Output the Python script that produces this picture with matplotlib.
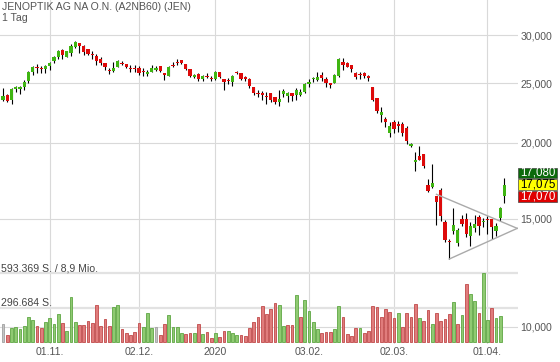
import matplotlib.pyplot as plt
import numpy as np
import pandas as pd
from matplotlib.patches import Rectangle
from matplotlib.transforms import IdentityTransform, blended_transform_factory

plt.rcParams['font.family'] = ['Liberation Sans', 'DejaVu Sans']

title = 'JENOPTIK AG NA O.N. (A2NB60) (JEN)'
interval = '1 Tag'

# Xetra trading days
holidays = ['2019-12-24', '2019-12-25', '2019-12-26', '2019-12-31', '2020-01-01']
dates = pd.bdate_range('2019-10-17', '2020-04-07')
dates = dates[~dates.isin(pd.to_datetime(holidays))]

opens = [23.45, 23.96, 23.50, 24.50, 24.48, 24.66, 25.26, 26.10, 26.59, 26.52,
         26.42, 26.66, 27.17, 27.58, 28.35, 27.65, 28.03, 28.64, 29.11, 28.75,
         28.46, 27.96, 27.72, 27.41, 27.00, 26.29, 26.16, 26.59, 27.03, 26.89,
         26.52, 26.52, 26.52, 26.16, 25.90, 26.12, 26.29, 26.69, 26.00, 25.73,
         26.82, 27.13, 27.30, 26.89, 26.39, 25.61, 25.90, 25.39, 25.71, 25.48,
         25.42, 26.10, 25.39, 25.26, 25.16, 26.07, 25.97, 25.58, 25.42, 24.63,
         24.14, 24.11, 23.84, 24.08, 23.72, 23.28, 23.99, 23.84, 24.14, 23.93,
         23.93, 24.23, 24.94, 25.39, 25.32, 25.80, 25.42, 25.04, 25.07, 25.71,
         27.10, 27.03, 26.79, 26.03, 25.93, 25.97, 25.74, 24.69, 23.69, 22.20,
         21.84, 20.77, 21.62, 21.45, 21.45, 21.13, 19.75, 18.62, 19.02, 19.16,
         17.05, 16.92, 16.33, 16.73, 14.82, 13.81, 14.31, 13.72, 15.00, 15.00,
         14.07, 14.52, 15.13, 14.82, 15.00, 14.98, 14.35, 15.08, 16.36]
highs = [24.57, 24.02, 24.57, 24.78, 24.72, 25.29, 26.16, 26.66, 26.89, 26.66,
         26.76, 27.07, 27.72, 28.35, 28.46, 28.28, 29.00, 29.33, 29.11, 28.92,
         28.46, 28.22, 27.93, 27.58, 27.00, 26.49, 27.10, 27.30, 27.23, 26.89,
         26.79, 26.79, 26.72, 26.52, 26.29, 26.79, 26.72, 26.69, 26.00, 26.66,
         27.07, 27.41, 27.30, 26.89, 26.39, 25.93, 25.97, 25.80, 25.97, 25.67,
         26.19, 26.12, 25.39, 25.54, 25.80, 26.22, 25.97, 25.71, 25.48, 24.63,
         24.39, 24.30, 24.23, 24.14, 23.78, 24.39, 24.45, 24.23, 24.14, 24.54,
         24.45, 25.01, 25.39, 25.64, 26.12, 26.07, 25.58, 25.04, 25.87, 27.54,
         27.47, 27.13, 26.79, 26.12, 26.12, 26.12, 25.80, 24.69, 23.69, 22.85,
         22.06, 21.64, 21.78, 21.70, 21.62, 21.29, 20.00, 19.32, 19.75, 19.16,
         17.44, 18.43, 16.33, 16.84, 14.94, 13.89, 15.66, 14.49, 15.23, 15.33,
         14.81, 15.23, 15.23, 15.04, 15.17, 14.98, 14.76, 15.70, 17.48]
lows = [23.37, 23.28, 23.16, 24.18, 24.05, 24.42, 25.07, 25.83, 26.00, 26.00,
        25.97, 26.32, 27.00, 27.41, 27.44, 27.58, 27.69, 28.56, 28.03, 27.86,
        27.79, 27.44, 26.82, 26.76, 26.26, 25.93, 26.10, 26.56, 26.76, 26.49,
        26.12, 26.07, 25.80, 25.73, 25.73, 26.07, 26.19, 26.12, 25.32, 25.67,
        26.62, 26.79, 26.86, 26.29, 25.58, 25.54, 25.26, 25.23, 25.48, 25.23,
        25.32, 25.54, 24.42, 24.91, 24.76, 25.90, 25.32, 25.26, 24.54, 23.93,
        23.73, 23.48, 23.10, 23.34, 23.13, 22.99, 23.78, 23.34, 23.42, 23.48,
        23.87, 24.09, 24.69, 25.16, 25.26, 25.26, 24.63, 24.54, 25.01, 25.64,
        26.29, 26.56, 26.12, 25.42, 25.42, 25.48, 25.26, 23.42, 22.39, 21.64,
        21.24, 20.45, 20.74, 20.82, 20.51, 19.90, 19.65, 18.00, 18.73, 18.20,
        16.59, 16.88, 14.64, 14.86, 13.77, 12.90, 14.20, 13.55, 14.63, 14.02,
        13.55, 14.26, 14.12, 14.57, 14.16, 13.93, 14.08, 14.89, 15.93]
closes = [23.81, 23.37, 24.48, 24.63, 24.66, 25.16, 26.10, 26.59, 26.49, 26.42,
          26.69, 27.00, 27.58, 28.22, 27.86, 28.22, 28.78, 29.22, 28.75, 28.14,
          27.93, 27.86, 27.23, 27.00, 26.59, 26.22, 26.49, 27.17, 26.93, 26.59,
          26.39, 26.35, 25.97, 26.07, 26.12, 26.52, 26.52, 26.19, 25.80, 26.59,
          26.69, 26.96, 27.00, 26.39, 25.71, 25.83, 25.42, 25.74, 25.61, 25.39,
          26.12, 25.64, 25.10, 25.20, 25.74, 25.97, 25.42, 25.40, 24.79, 24.09,
          24.05, 23.93, 23.78, 23.48, 23.34, 23.57, 24.32, 24.08, 23.84, 24.39,
          24.23, 24.91, 25.16, 25.48, 25.58, 25.48, 25.01, 24.85, 25.80, 27.41,
          26.79, 26.56, 26.39, 25.64, 25.83, 25.71, 25.54, 23.48, 22.53, 22.47,
          21.64, 21.32, 21.05, 21.29, 20.74, 20.12, 19.90, 18.70, 18.75, 18.34,
          16.67, 17.20, 16.01, 15.17, 13.86, 13.76, 14.64, 14.39, 14.72, 14.18,
          14.61, 14.70, 14.62, 14.89, 14.94, 14.57, 14.62, 15.61, 17.08]
# volume in 1000 shares (today's volume not shown yet)
volume_k = [153, 58, 119, 124, 110, 136, 214, 188, 139, 121,
            174, 208, 153, 240, 165, 93, 390, 174, 145, 145,
            179, 165, 321, 136, 194, 139, 301, 321, 110, 72,
            58, 81, 165, 127, 246, 121, 124, 55, 150, 231,
            127, 130, 72, 69, 72, 78, 153, 69, 84, 32,
            75, 38, 95, 93, 72, 61, 61, 49, 121, 171,
            211, 309, 240, 283, 338, 315, 136, 142, 145, 405,
            214, 367, 269, 171, 107, 72, 81, 84, 110, 309,
            217, 64, 52, 116, 119, 75, 90, 309, 301, 211,
            283, 257, 208, 249, 130, 254, 217, 330, 208, 179,
            275, 153, 254, 176, 194, 240, 344, 156, 234, 500,
            416, 353, 252, 593.369, 185, 292, 208, 223]
turnover = '8,9 Mio.'

tick_dates = ['2019-11-01', '2019-12-02', '2020-01-02', '2020-02-03', '2020-03-02', '2020-04-01']
tick_labels = ['01.11.', '02.12.', '2020', '03.02.', '02.03.', '01.04.']
price_ticks = [10, 15, 20, 25, 30]

# drawn triangle: (bar index, price)
tri_upper = [(102, 16.46), (121, 14.48)]
tri_lower = [(105, 12.90), (121, 14.48)]

# ask / last / bid
quotes = [17.080, 17.075, 17.070]
quote_fc = ['#0b6a0b', '#ffff00', '#e00000']
quote_tc = ['white', 'black', 'white']

GREEN = '#3fb512'
RED = '#dd0a0a'
FS = 7.6

o = np.array(opens); h = np.array(highs); l = np.array(lows); c = np.array(closes)
vol = np.array(volume_k) * 1000
x = np.arange(len(dates))

fig = plt.figure(figsize=(5.6, 3.62), dpi=100)
ax = fig.add_axes([0, 18 / 362, 518 / 560, 344 / 362])
ax.set_yscale('log')
ax.set_ylim(9.366, 34.23)
ax.set_xlim(-0.706, 121.18)

ax.vlines(x, l, h, color='black', lw=0.8, zorder=2)
up = c >= o
body = np.maximum(np.abs(c - o), o * 0.004)
ax.bar(x, body, 0.72, np.minimum(o, c), color=np.where(up, GREEN, RED), zorder=3)

for seg in (tri_upper, tri_lower):
    ax.plot([p[0] for p in seg], [p[1] for p in seg], color='#aaaaaa', lw=1.0, zorder=4)

ax.yaxis.set_minor_locator(plt.NullLocator())
ax.set_yticks(price_ticks)
ax.set_yticklabels([f'{v:.3f}'.replace('.', ',') for v in price_ticks])
tick_pos = [dates.get_loc(pd.Timestamp(d)) for d in tick_dates]
ax.set_xticks(tick_pos)
ax.set_xticklabels(tick_labels)
ax.grid(True, color='#d9d9d9', lw=0.8, zorder=0)
ax.set_axisbelow(True)

# volume panel
axv = ax.twinx()
axv.set_ylim(-20000, 2972800)
vmax = vol.max()
chg = np.sign(np.diff(c[:len(vol)], prepend=np.nan))
face = np.where(chg > 0, '#8fca72', np.where(chg < 0, '#e07c7c', '#c4c4c4'))
edge = np.where(chg > 0, '#5ea643', np.where(chg < 0, '#c04a4a', '#a0a0a0'))
axv.bar(x[:len(vol)], vol, 0.62, color=face, edgecolor=edge, lw=0.6, zorder=3)
for lev in (vmax, vmax / 2):
    axv.axhline(lev, color='#e2e2e2', lw=1.6, zorder=1)
tr = blended_transform_factory(axv.transAxes, axv.transData)
de = lambda v: f'{int(v):,}'.replace(',', '.')
axv.text(0.002, vmax, f'{de(vmax)} S. / {turnover}', transform=tr, va='bottom',
         fontsize=FS, color='#444444')
axv.text(0.002, vmax / 2, f'{de(vmax / 2)} S.', transform=tr, va='bottom',
         fontsize=FS, color='#444444')
axv.set_yticks([])

ax.yaxis.tick_right()
ax.tick_params(axis='both', length=0, labelsize=FS, colors='#555555')
ax.tick_params(axis='y', pad=1.5)
ax.tick_params(axis='x', pad=2.3)
for a in (ax, axv):
    for s in a.spines.values():
        s.set_visible(False)

fig.text(2 / 560, 1 - 10 / 362, title, fontsize=FS, color='#555555', va='baseline')
fig.text(2 / 560, 1 - 20.7 / 362, interval, fontsize=FS, color='#555555', va='baseline')

# quote boxes stacked around the last price
y_mid = ax.transData.transform((0, quotes[1]))[1]
x0 = ax.transAxes.transform((1, 0))[0]
for k, (q, fc, tc) in enumerate(zip(quotes, quote_fc, quote_tc)):
    yc = y_mid + (1 - k) * 11.8
    fig.add_artist(Rectangle((x0, yc - 5.3), 39, 10.6, transform=IdentityTransform(),
                             facecolor=fc, edgecolor='#444444', lw=0.5))
    fig.text((x0 + 19.5) / 560, yc / 362, f'{q:.3f}'.replace('.', ','), ha='center',
             va='center', fontsize=8.3, color=tc)

fig.savefig('out.png', dpi=100)
